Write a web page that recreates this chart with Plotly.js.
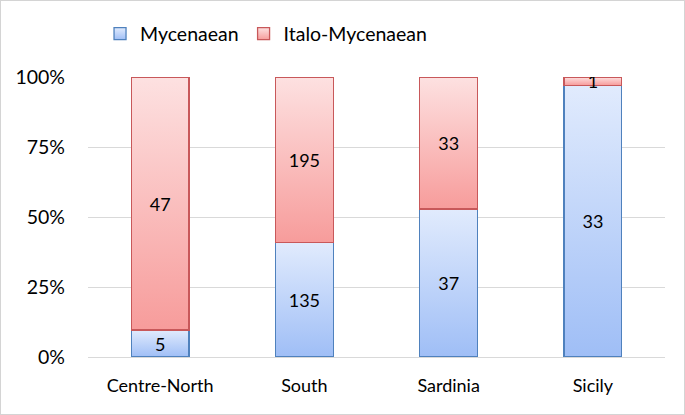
<!DOCTYPE html>
<html>
<head>
<meta charset="utf-8">
<script src="https://cdn.plot.ly/plotly-3.0.1.min.js"></script>
<style>
  body { margin: 0; background: #fff; }
  #myDiv { width: 683px; height: 413px; border: 1px solid #d4d4d4; }
</style>
</head>
<body>
<div id="myDiv"></div>
<script>
// regions and counts of pottery finds
var regions = ['Centre-North', 'South', 'Sardinia', 'Sicily'];
var mycenaean = [5, 135, 37, 33];
var italoMycenaean = [47, 195, 33, 1];
var yTicks = [0, 25, 50, 75, 100];
var yTickText = ['0%', '25%', '50%', '75%', '100%'];

var font = 'Lato, "Open Sans", sans-serif';

var traceMyc = {
  x: regions,
  y: mycenaean,
  name: 'Mycenaean',
  type: 'bar',
  width: 0.4,
  text: mycenaean.map(String),
  textposition: 'inside',
  insidetextanchor: 'middle',
  textangle: 0,
  constraintext: 'none',
  textfont: { family: font, size: 18, color: '#000' },
  marker: { color: '#c3d6f8', line: { color: '#4f81bd', width: 1.3 } },
  hoverinfo: 'skip'
};

var traceItalo = {
  x: regions,
  y: italoMycenaean,
  name: 'Italo-Mycenaean',
  type: 'bar',
  width: 0.4,
  text: italoMycenaean.map(String),
  textposition: 'inside',
  insidetextanchor: 'middle',
  textangle: 0,
  constraintext: 'none',
  textfont: { family: font, size: 18, color: '#000' },
  marker: { color: '#fbbcbc', line: { color: '#c8585a', width: 1.3 } },
  hoverinfo: 'skip'
};

var layout = {
  barmode: 'stack',
  barnorm: 'percent',
  paper_bgcolor: '#fff',
  plot_bgcolor: '#fff',
  font: { family: font, size: 18, color: '#000' },
  margin: { l: 87, r: 19, t: 76, b: 57, pad: 0, autoexpand: false },
  showlegend: true,
  legend: {
    orientation: 'h',
    xref: 'container', yref: 'container',
    x: 0.145, xanchor: 'left',
    y: 0.92, yanchor: 'middle',
    font: { family: font, size: 19.5, color: '#000' },
    itemwidth: 30,
    traceorder: 'normal'
  },
  xaxis: {
    showgrid: false,
    showline: true,
    linecolor: '#d9d9d9',
    linewidth: 1,
    ticks: '',
    tickfont: { family: font, size: 18, color: '#000' },
    ticklabelstandoff: 12
  },
  yaxis: {
    range: [0, 100],
    tickmode: 'array',
    tickvals: yTicks,
    ticktext: yTickText,
    showgrid: true,
    gridcolor: '#d9d9d9',
    gridwidth: 1,
    zeroline: false,
    showline: false,
    ticks: '',
    tickfont: { family: font, size: 19.5, color: '#000' },
    ticklabelstandoff: 22
  }
};

Plotly.newPlot('myDiv', [traceMyc, traceItalo], layout, { staticPlot: true }).then(function (gd) {
  // Excel-style vertical gradients, top light -> bottom darker
  var svg = gd.querySelector('.main-svg');
  var ns = 'http://www.w3.org/2000/svg';
  var defs = svg.querySelector('defs') || svg.insertBefore(document.createElementNS(ns, 'defs'), svg.firstChild);
  function grad(id, top, bottom) {
    var g = document.createElementNS(ns, 'linearGradient');
    g.setAttribute('id', id);
    g.setAttribute('x1', '0'); g.setAttribute('y1', '0');
    g.setAttribute('x2', '0'); g.setAttribute('y2', '1');
    [[0, top], [1, bottom]].forEach(function (s) {
      var st = document.createElementNS(ns, 'stop');
      st.setAttribute('offset', s[0]);
      st.setAttribute('stop-color', s[1]);
      g.appendChild(st);
    });
    defs.appendChild(g);
  }
  grad('gradMyc', '#e1ebfd', '#9fbef6');
  grad('gradItalo', '#fde1e1', '#f79c9b');
  var fills = ['url(#gradMyc)', 'url(#gradItalo)'];

  var bars = gd.querySelectorAll('.barlayer .trace.bars');
  bars.forEach(function (tr, i) {
    tr.querySelectorAll('.point path').forEach(function (p) {
      p.style.fill = fills[i];
    });
  });
  var legendPts = gd.querySelectorAll('.legend .traces');
  legendPts.forEach(function (tr, i) {
    tr.querySelectorAll('.legendpoints path').forEach(function (p) {
      p.style.fill = fills[i];
    });
  });
});
</script>
</body>
</html>
